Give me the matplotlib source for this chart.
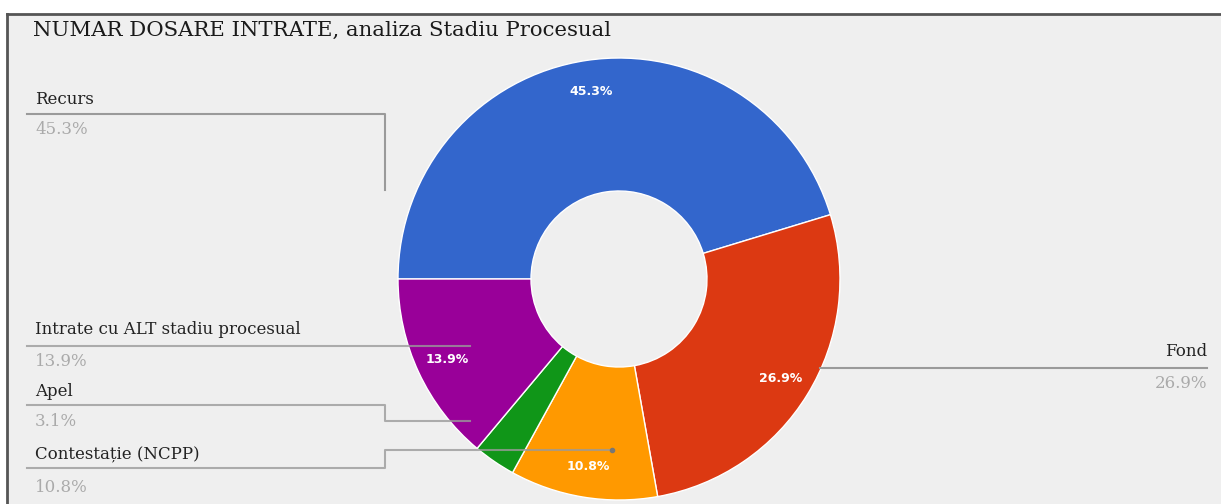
import matplotlib
matplotlib.use("Agg")
import matplotlib.pyplot as plt

# data
categories = ["Recurs", "Fond", "Contestație (NCPP)", "Apel", "Intrate cu ALT stadiu procesual"]
shares = [45.3, 26.9, 10.8, 3.1, 13.9]
colors = ["#3366cc", "#dc3912", "#ff9900", "#109618", "#990099"]
title = "NUMAR DOSARE INTRATE, analiza Stadiu Procesual"

W, H = 1221, 504
bg = "#efefef"
line_col = "#9a9a9a"

fig = plt.figure(figsize=(W / 100, H / 100), dpi=100)
fig.patch.set_facecolor("white")
ax = fig.add_axes([0, 0, 1, 1])
ax.set_facecolor("white")

# chart area background + frame
ax.add_patch(plt.Rectangle((7, 14), W - 7, H - 14, facecolor=bg, edgecolor="none", zorder=0))
ax.plot([7, W], [14, 14], color="#555555", lw=2, zorder=1)
ax.plot([7, 7], [14, H], color="#555555", lw=2, zorder=1)

wedges, _, autotexts = ax.pie(
    shares, colors=colors, center=(619, 279), radius=221,
    startangle=180, counterclock=True,
    autopct=lambda p: "%.1f%%" % p if p > 5 else "",
    pctdistance=0.86,
    wedgeprops=dict(width=133, edgecolor="white", linewidth=1),
    textprops=dict(color="white", fontsize=9, fontweight="bold", family="DejaVu Sans"),
)
for w in wedges:
    w.set_zorder(2)
for t in autotexts:
    t.set_zorder(5)

ax.set_xlim(0, W)
ax.set_ylim(H, 0)
ax.set_aspect("equal")
ax.axis("off")

ax.text(33, 30, title, fontsize=15.3, family="DejaVu Serif", color="#1a1a1a",
        va="center", ha="left", zorder=6)

lab_font = dict(fontsize=12, family="DejaVu Serif")

def side_label(x, y_name, y_pct, idx, ha="left"):
    ax.text(x, y_name, categories[idx], color="#222222", va="center", ha=ha, zorder=6, **lab_font)
    ax.text(x, y_pct, "%.1f%%" % shares[idx], color="#aaaaaa", va="center", ha=ha, zorder=6, **lab_font)

# left side labels and leader lines
side_label(35, 100, 130, 0)
ax.plot([27, 385, 385], [114, 114, 190], color=line_col, lw=1.5, zorder=3)

side_label(35, 330, 362, 4)
ax.plot([27, 470], [346, 346], color=line_col, lw=1.5, alpha=0.8, zorder=3)

side_label(35, 392, 421, 3)
ax.plot([27, 385, 385, 470], [405, 405, 421, 421], color=line_col, lw=1.5, alpha=0.8, zorder=3)

side_label(35, 455, 487, 2)
ax.plot([27, 385, 385, 612], [468, 468, 450, 450], color=line_col, lw=1.5, alpha=0.8, zorder=3)
ax.plot([612], [450], "o", color="#777777", ms=3, zorder=3)

# right side label
side_label(1207, 352, 383, 1, ha="right")
ax.plot([820, 1207], [368, 368], color=line_col, lw=1.5, zorder=3)

fig.savefig("out.png", dpi=100, facecolor=fig.get_facecolor())
